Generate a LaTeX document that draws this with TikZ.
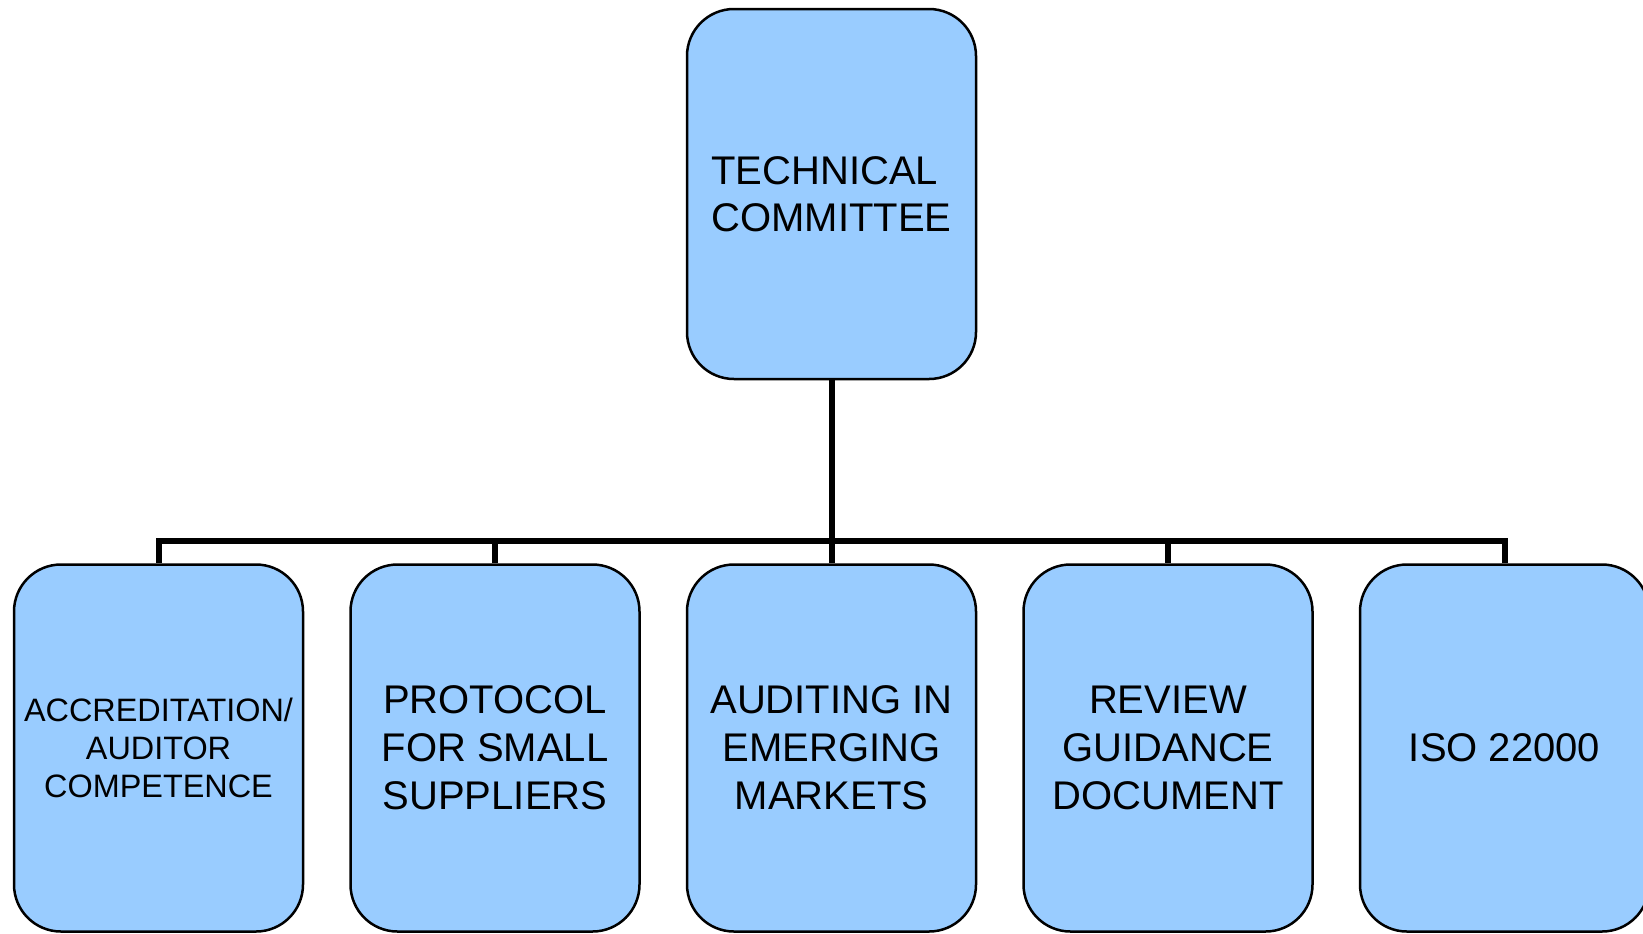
\documentclass[tikz,border=0pt]{standalone}
\usepackage{fontspec}
\setmainfont{Liberation Sans}
\definecolor{boxblue}{RGB}{153,204,255}
\begin{document}
\begin{tikzpicture}[x=0.5pt,y=-0.5pt,
  box/.style={draw=black,line width=1.25pt,fill=boxblue,rounded corners=23.5pt,
    minimum width=144.5pt,inner sep=0pt,text=black},
  topbox/.style={box,minimum height=185pt,align=left,
    font=\fontsize{20}{23.75}\selectfont},
  childbox/.style={box,minimum height=183.5pt,align=center,
    font=\fontsize{20}{23.9}\selectfont},
  smalltext/.style={font=\fontsize{16.2}{18.9}\selectfont},
  conn/.style={draw=black,line width=3pt}]
\fill[white] (0,0) rectangle (1643,933);
\useasboundingbox (0,0) rectangle (1643,933);
\node[topbox] (top) at (831.5,194) {TECHNICAL\\COMMITTEE};
\node[childbox,smalltext] (c1) at (158.5,748) {ACCREDITATION/\\AUDITOR\\COMPETENCE};
\node[childbox] (c2) at (495,748) {PROTOCOL\\FOR SMALL\\SUPPLIERS};
\node[childbox] (c3) at (831.5,748) {AUDITING IN\\EMERGING\\MARKETS};
\node[childbox] (c4) at (1168,748) {REVIEW\\GUIDANCE\\DOCUMENT};
\node[childbox] (c5) at (1504.5,748) {ISO 22000};
\coordinate (bus) at (831.5,541);
\draw[conn] (top.south) -- (bus);
\draw[conn] (bus) -| (c1.north);
\draw[conn] (bus) -| (c2.north);
\draw[conn] (bus) -- (c3.north);
\draw[conn] (bus) -| (c4.north);
\draw[conn] (bus) -| (c5.north);
\end{tikzpicture}
\end{document}
